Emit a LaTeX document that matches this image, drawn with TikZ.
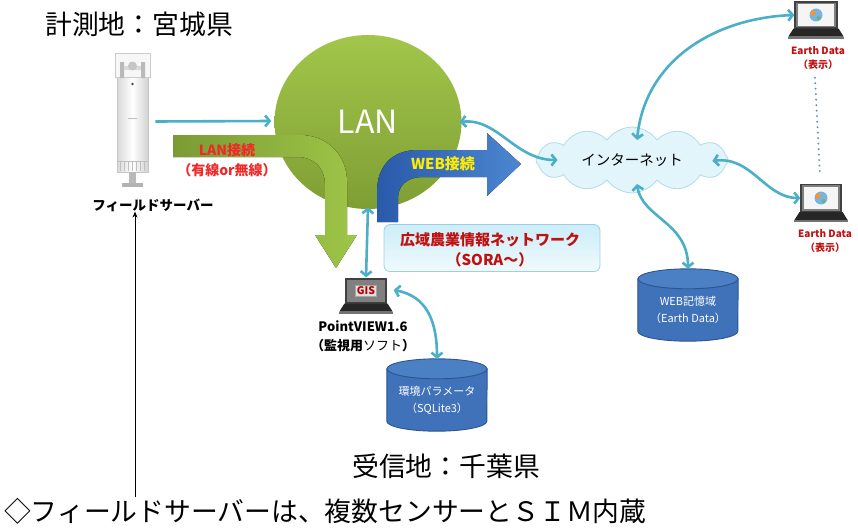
\documentclass[tikz,border=0pt]{standalone}
\usepackage{fontspec}
\setmainfont{Noto Sans CJK JP}
\usetikzlibrary{arrows.meta,shapes.geometric,shapes.symbols,calc}

\definecolor{linkc}{HTML}{4BAFC8}
\definecolor{lanTop}{HTML}{A2C64A}
\definecolor{lanBot}{HTML}{7E9E34}
\definecolor{grnA}{HTML}{7B9A35}
\definecolor{grnB}{HTML}{9EC647}
\definecolor{bluA}{HTML}{2A5AAA}
\definecolor{bluB}{HTML}{4C86D0}
\definecolor{dbBody}{HTML}{3F72B8}
\definecolor{dbEnd}{HTML}{4C80C4}
\definecolor{dbEdge}{HTML}{2A5590}
\definecolor{cloudFill}{HTML}{E2F5FB}
\definecolor{cloudEdge}{HTML}{B2DAE8}
\definecolor{soraTop}{HTML}{CBEDF9}
\definecolor{soraBot}{HTML}{F0FAFD}
\definecolor{soraEdge}{HTML}{9FCFE0}
\definecolor{redA}{HTML}{F02828}
\definecolor{redB}{HTML}{C01010}
\definecolor{dotc}{HTML}{6F8FB8}

\newcommand\fsz[2]{\fontsize{#1}{#2}\selectfont}

% keyboard part of a laptop, hung below its screen node
\newcommand\lapbase[1]{%
  \fill[black!85] ($(#1.south west)+(-1,0)$) -- ($(#1.south east)+(1,0)$)
    -- ($(#1.south east)+(6,8)$) -- ($(#1.south west)+(-6,8)$) -- cycle;
  \fill[black!55] ($(#1.south west)+(-6,8)$) rectangle ($(#1.south east)+(6,10)$);}
% globe picture on a laptop screen
\newcommand\globe[1]{%
  \fill[gray!8] ($(#1.south west)+(4,-3)$) rectangle ($(#1.north east)+(-4,3)$);
  \fill[cyan!70!blue!55] (#1.center) circle (6.5);
  \fill[orange!85] ($(#1.center)+(-3,-2)$) circle (2.6);
  \fill[green!45!black!55] ($(#1.center)+(2.5,3)$) circle (2);}
% database drum drawn over the frame node #1 (half width 50, end radius 10)
\newcommand\drum[1]{%
  \filldraw[fill=dbBody,draw=dbEdge,line width=0.9pt]
    ($(#1.north west)+(0,10)$) -- ($(#1.south west)+(0,-10)$)
    arc[start angle=180,end angle=0,x radius=50,y radius=10]
    -- ($(#1.north east)+(0,10)$) -- cycle;
  \filldraw[fill=dbEnd,draw=dbEdge,line width=0.9pt]
    ($(#1.north)+(0,10)$) ellipse[x radius=50,y radius=10];}

\begin{document}
\begin{tikzpicture}[x=1pt,y=-1pt,
  >={Straight Barb[length=4.5pt,width=11pt]},
  link/.style={draw=linkc,line width=2.6pt},
  title/.style={anchor=west,font=\fsz{26.8}{30},inner sep=0},
  scr/.style={draw=black!75,line width=1.3pt,fill=black!50,inner sep=0},
  dbframe/.style={minimum width=100,minimum height=72,inner sep=0},
  dbtext/.style={text=white,align=center,font=\fsz{11}{17}},
  edl/.style={text=redB,font=\bfseries\fsz{10}{14},align=center,inner sep=0}]

\useasboundingbox (0,0) rectangle (858,527);

% headings
\node[title] (hdA) at (45,24) {計測地：宮城県};
\node[title] (hdB) at (352,466) {受信地：千葉県};
\node[title] (note) at (4,511) {◇フィールドサーバーは、複数センサーとＳＩＭ内蔵};

% field server
\node[draw=gray!45,line width=0.6pt,left color=gray!30,right color=gray!35,middle color=white,
  minimum width=31,minimum height=95,inner sep=0] (fs) at (132.5,124.5) {};
\node[draw=gray!40,fill=gray!6,minimum width=35,minimum height=24,inner sep=0] (fscap) at (132.5,65) {};
\fill[gray!55] (120,62) rectangle (124,78) (141,62) rectangle (145,78);
\fill[gray!30] (124,66) rectangle (141,70);
\fill[gray!45] (132.5,66) circle (4.5);
\fill[black!70] (132.5,84) circle (1.3);
\draw[gray!50,line width=0.6pt] (128,118) -- (137,118);
\foreach \gx in {120,124,...,146} \draw[gray!50,line width=0.6pt] (\gx,162) -- (\gx,171);
\draw[gray!50] (117,161) -- (148,161);
\fill[gray!55] (129,172) rectangle (136,184);
\fill[gray!60] (122,183) rectangle (143,187);
\node[font=\bfseries\fsz{13.5}{16},inner sep=0] (fslbl) at (153,205) {フィールドサーバー};
\coordinate (noteTop) at (135,497);
\draw[black,line width=0.7pt,-{Stealth[length=6pt,width=5pt]}] (noteTop) -- (noteTop |- fslbl.south);

% LAN
\node[ellipse,top color=lanTop,bottom color=lanBot,minimum width=187,minimum height=174,inner sep=0] (lan) at (368,122) {};
\node[text=white,font=\fsz{32}{36},inner sep=0] (lantxt) at (lan.center) {LAN};

% internet cloud
\node[cloud,cloud puffs=12,cloud puff arc=110,aspect=3,fill=cloudFill,draw=cloudEdge,line width=0.8pt,
  minimum width=192,minimum height=66,inner sep=0,font=\fsz{14.5}{17}] (net) at (632,160) {インターネット};

% laptops
\node[scr,minimum width=42,minimum height=26] (pcA) at (816,15) {};
\globe{pcA}\lapbase{pcA}
\node[edl] (pcAl) at (818,58) {Earth Data\\（表示）};
\node[scr,minimum width=40,minimum height=27] (pcB) at (821,198) {};
\globe{pcB}\lapbase{pcB}
\node[edl] (pcBl) at (825,241) {Earth Data\\（表示）};
\draw[dotc,line width=2.2pt,line cap=round,dash pattern=on 0pt off 5.5pt] ($(pcAl.south)+(-3,8)$) -- ($(pcB.north)+(-1,-8)$);

\node[scr,minimum width=40,minimum height=24] (gis) at (366,291) {};
\node[fill=gray!25,draw=gray!70,line width=0.5pt,text=red!70!black,font=\bfseries\fsz{10.5}{12},
  inner sep=1.5pt] (gistxt) at (gis.center) {GIS};
\lapbase{gis}
\node[font=\bfseries\fsz{13}{19},align=center,inner sep=0] (gisl) at (363,336) {PointVIEW1.6\\（監視用{\mdseries ソフト}）};

% databases
\node[dbframe] (dbA) at (437,395) {};
\drum{dbA}
\node[dbtext] (dbAt) at (437,400) {環境パラメータ\\（SQLite3）};
\node[dbframe] (dbB) at (688,305) {};
\drum{dbB}
\node[dbtext] (dbBt) at (688,310) {WEB記憶域\\（Earth Data）};

% links
\draw[link,->] ($(fs.east)+(7,-3)$) -- ($(lan.west)+(-3,-1)$);
\draw[link,<->] ($(lan.south)+(0,-2)$) -- ($(gis.north)+(0,-1)$);
\draw[link,<->] ($(gis.east)+(7,-1)$) .. controls (426,296) and (437,320) .. (dbA.north);
\draw[link,<->] ($(lan.east)+(-2,0)$) .. controls (498,118) and (515,160) .. ($(net.west)+(22,0)$);
\draw[link,<->] ($(net.center)+(5,-20)$) .. controls (645,60) and (715,18) .. (pcA.west);
\draw[link,<->] ($(net.east)+(-16,1)$) .. controls (752,156) and (765,198) .. (pcB.west);
\draw[link,<->] ($(net.center)+(5,24)$) .. controls (642,218) and (688,222) .. (dbB.north);

% LAN connection arrow
\fill[left color=grnA,right color=grnB] (173,135) -- (300,135) .. controls (328,135) and (347,156) .. (347,182)
  -- (347,235) -- (357,235) -- (336,268) -- (315,235) -- (325,235) -- (325,184)
  .. controls (325,168) and (314,157) .. (298,157) -- (173,157) -- cycle;
\node[text=redA,font=\bfseries\fsz{14}{20},align=center,inner sep=0] (lanlbl) at (227,160) {LAN接続\\（有線or無線）};

% WEB connection arrow
\fill[left color=bluA,right color=bluB] (377,222) -- (377,192) .. controls (377,166) and (392,150) .. (418,150)
  -- (487,150) -- (487,133) -- (521,164) -- (487,196) -- (487,177) -- (422,177)
  .. controls (407,177) and (398,186) .. (398,198) -- (398,222) -- cycle;
\node[text=yellow!95!orange,font=\bfseries\fsz{15}{17},inner sep=0] (weblbl) at (443,164) {WEB接続};

% wide-area network box
\node[draw=soraEdge,line width=0.8pt,rounded corners=6pt,top color=soraTop,bottom color=soraBot,
  minimum width=216,minimum height=47,inner sep=0] (sora) at (492,248) {};
\node[text=redB,font=\bfseries\fsz{15}{20},align=center,inner sep=0] (soratxt) at (490,250) {広域農業情報ネットワーク\\（SORA～）};

\end{tikzpicture}
\end{document}
